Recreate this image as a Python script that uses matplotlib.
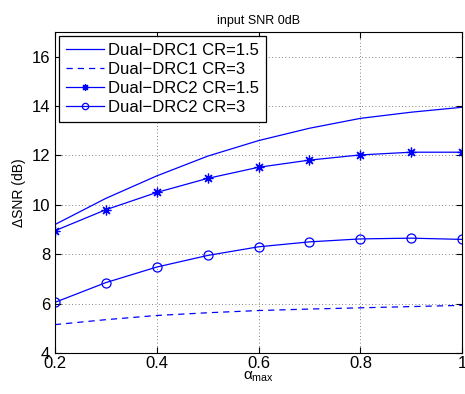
import matplotlib
matplotlib.use("Agg")
import matplotlib.pyplot as plt

plt.rcParams['font.family'] = ['Liberation Sans', 'DejaVu Sans']
plt.rcParams['mathtext.fontset'] = 'custom'
plt.rcParams['mathtext.rm'] = 'Liberation Sans'

alpha = [0.2, 0.3, 0.4, 0.5, 0.6, 0.7, 0.8, 0.9, 1.0]
drc1_cr15 = [9.2, 10.26, 11.17, 11.97, 12.6, 13.1, 13.5, 13.75, 13.95]
drc1_cr3 = [5.15, 5.35, 5.52, 5.63, 5.72, 5.78, 5.83, 5.88, 5.93]
drc2_cr15 = [8.95, 9.8, 10.5, 11.07, 11.52, 11.81, 12.02, 12.13, 12.13]
drc2_cr3 = [6.05, 6.85, 7.48, 7.95, 8.3, 8.5, 8.62, 8.65, 8.6]

fig = plt.figure(figsize=(4.65, 3.94), dpi=100)
ax = fig.add_axes([0.118, 0.104, 0.876, 0.815])

blue = (0, 0, 1)
asterisk = (8, 2, 0)
ax.plot(alpha, drc1_cr15, '-', color=blue, lw=0.9, label='Dual\u2212DRC1 CR=1.5')
ax.plot(alpha, drc1_cr3, '--', color=blue, lw=0.9, dashes=(5, 4), label='Dual\u2212DRC1 CR=3')
ax.plot(alpha, drc2_cr15, '-', marker=asterisk, color=blue, lw=0.9, ms=7, mew=0.9,
        label='Dual\u2212DRC2 CR=1.5')
ax.plot(alpha, drc2_cr3, '-o', color=blue, lw=0.9, ms=6.5, mfc='none', mew=0.9,
        label='Dual\u2212DRC2 CR=3')

ax.set_xlim(0.2, 1.0)
ax.set_ylim(4, 17)
ax.set_xticks([0.2, 0.4, 0.6, 0.8, 1.0])
ax.set_xticklabels(['0.2', '0.4', '0.6', '0.8', '1'])
ax.set_yticks([4, 6, 8, 10, 12, 14, 16])
ax.tick_params(direction='in', labelsize=12, length=4, top=True, right=True)
ax.tick_params(axis='x', pad=2)
ax.grid(True, linestyle=(0, (1, 3)), color='0.35', lw=0.6)

ax.set_title('input SNR 0dB', fontsize=9, pad=6)
ax.set_xlabel(r'$\mathregular{\alpha_{max}}$', fontsize=11, labelpad=-1)
ax.set_ylabel('\u0394SNR (dB)', fontsize=10, labelpad=4)

leg = ax.legend(loc='upper left', fontsize=12, fancybox=False, framealpha=1,
                edgecolor='black', borderpad=0.4, labelspacing=0.25,
                handlelength=2.3, handletextpad=0.25, borderaxespad=0.25,
                markerscale=0.7)
leg.get_frame().set_linewidth(0.9)

fig.savefig('out.png', dpi=100)
